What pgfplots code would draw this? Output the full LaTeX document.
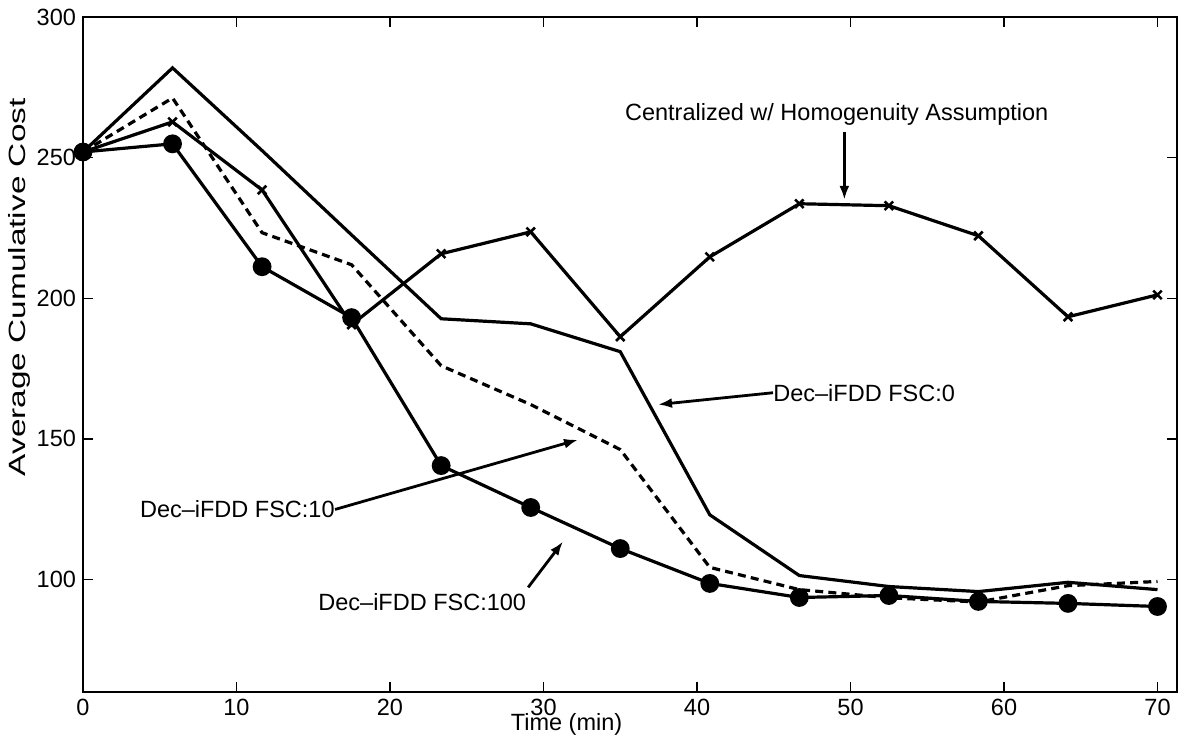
\documentclass[border=0pt]{standalone}
\usepackage{fontspec}
\setmainfont{Liberation Sans}
\usepackage{pgfplots}
\pgfplotsset{compat=1.18}
\usetikzlibrary{arrows.meta}
\newcommand{\lblfont}{\fontsize{11.75}{14}\selectfont}
\begin{document}
\begin{tikzpicture}
\begin{axis}[
  name=ax,
  scale only axis,
  width=547pt, height=337.5pt,
  xmin=0, xmax=71.27, ymin=60, ymax=300,
  xtick={0,10,...,70}, ytick={100,150,...,300},
  tick align=inside,
  major tick length=5pt,
  every tick/.style={black, line width=0.7pt},
  axis line style={line width=0.7pt},
  tick label style={font=\lblfont},
  /pgf/number format/assume math mode=true,
  clip=false,
]
% Centralized w/ Homogenuity Assumption
\addplot[black, line width=1.6pt, mark=x, mark size=3pt, mark options={solid, line width=1.3pt}] coordinates {
(0,252) (5.833,262.7) (11.667,238.5) (17.5,190.6) (23.333,215.8) (29.167,223.6) (35,186.3)
(40.833,214.7) (46.667,233.6) (52.5,232.9) (58.333,222.2) (64.167,193.4) (70,201.2)};
% Dec-iFDD FSC:0
\addplot[black, line width=1.6pt] coordinates {
(0,252) (5.833,281.9) (11.667,252.5) (17.5,222.5) (23.333,192.7) (29.167,190.9) (35,181.0)
(40.833,123) (46.667,101.4) (52.5,97.5) (58.333,95.7) (64.167,99) (70,96.4)};
% Dec-iFDD FSC:10
\addplot[black, line width=1.6pt, dash pattern=on 4pt off 2.6pt] coordinates {
(0,252) (5.833,271.2) (11.667,223.3) (17.5,211.9) (23.333,176) (29.167,162.2) (35,146.2)
(40.833,104.3) (46.667,96.4) (52.5,93.5) (58.333,92.0) (64.167,97.8) (70,99.3)};
% Dec-iFDD FSC:100
\addplot[black, line width=1.6pt, mark=*, mark size=3.9pt, mark options={solid, fill=black}] coordinates {
(0,252) (5.833,254.9) (11.667,211.2) (17.5,193.1) (23.333,140.5) (29.167,125.6) (35,111.0)
(40.833,98.6) (46.667,93.6) (52.5,94.3) (58.333,92.2) (64.167,91.5) (70,90.4)};

% annotations
\node[font=\lblfont, inner sep=0pt] at (axis cs:49.1,265.2) {Centralized w/ Homogenuity Assumption};
\draw[line width=1.4pt, -{Latex[length=7pt,width=5pt]}] (axis cs:49.6,259.1) -- (axis cs:49.6,235.0);

\node[font=\lblfont, inner sep=0pt, anchor=west] at (axis cs:44.95,166.4) {Dec\textendash iFDD FSC:0};
\draw[line width=1.4pt, -{Latex[length=7pt,width=5pt]}] (axis cs:44.95,166.4) -- (axis cs:37.46,162.2);

\node[font=\lblfont, inner sep=0pt, anchor=east] at (axis cs:16.42,124.9) {Dec\textendash iFDD FSC:10};
\draw[line width=1.4pt, -{Latex[length=7pt,width=5pt]}] (axis cs:16.42,124.9) -- (axis cs:32.25,149.7);

\node[font=\lblfont, inner sep=0pt] at (axis cs:22.1,91.8) {Dec\textendash iFDD FSC:100};
\draw[line width=1.4pt, -{Latex[length=7pt,width=5pt]}] (axis cs:29.0,97.2) -- (axis cs:31.27,113.5);

% axis labels
\node[font=\lblfont, inner sep=0pt] at (axis cs:31.5,48.6) {Time (min)};
\node[font=\lblfont, inner sep=0pt, rotate=90, xscale=1.42] at (axis cs:-4.17,203.9) {Average Cumulative Cost};
\end{axis}
\pgfresetboundingbox
\path ([shift={(-41.5pt,-25pt)}]ax.south west) rectangle ([shift={(0.5pt,8.5pt)}]ax.north east);
\end{tikzpicture}
\end{document}
